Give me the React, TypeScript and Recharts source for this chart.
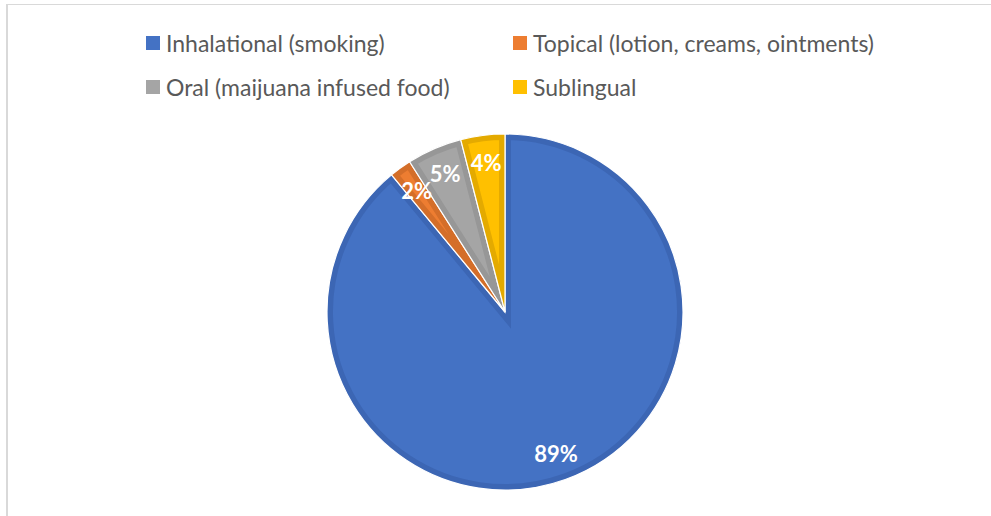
import React from 'react';
import { PieChart, Pie, Legend, Sector } from 'recharts';

const categories = [
  'Inhalational (smoking)',
  'Topical (lotion, creams, ointments)',
  'Oral (maijuana infused food)',
  'Sublingual',
];
const shares = [89, 2, 5, 4];
const fillColors = ['#4472c4', '#ed7d31', '#a5a5a5', '#ffc000'];
const bandColors = ['#3c66b4', '#d46e29', '#979797', '#e4aa00'];

const data = categories.map((name, i) => ({ name, value: shares[i] }));

const RAD = Math.PI / 180;
const FONT = 'Lato, "Open Sans", sans-serif';

const idxOf = (p: any) => {
  const n = p?.payload?.name ?? p?.name;
  const i = categories.indexOf(n);
  return i < 0 ? 0 : i;
};

const renderSlice = (p: any) => {
  const i = idxOf(p);
  const id = `slice-clip-${i}`;
  const geom = {
    cx: p.cx,
    cy: p.cy,
    innerRadius: p.innerRadius,
    outerRadius: p.outerRadius,
    startAngle: p.startAngle,
    endAngle: p.endAngle,
  };
  return (
    <g>
      <defs>
        <clipPath id={id}>
          <Sector {...geom} />
        </clipPath>
      </defs>
      <Sector {...geom} fill={fillColors[i]} stroke={bandColors[i]} strokeWidth={12} clipPath={`url(#${id})`} />
      <Sector {...geom} fill="none" stroke="#ffffff" strokeWidth={1.2} />
    </g>
  );
};

const renderLabel = (p: any) => {
  const r = p.outerRadius * 0.845;
  const x = p.cx + r * Math.cos(-p.midAngle * RAD);
  const y = p.cy + r * Math.sin(-p.midAngle * RAD);
  return (
    <text
      x={x}
      y={y}
      fill="#ffffff"
      textAnchor="middle"
      dominantBaseline="central"
      fontFamily={FONT}
      fontWeight={700}
      fontSize={22}
    >
      {`${p.value}%`}
    </text>
  );
};

const legendPos = [
  { x: 146, y: 43 },
  { x: 513, y: 43 },
  { x: 146, y: 87 },
  { x: 513, y: 87 },
];

const LegendBox = () => (
  <div style={{ position: 'relative', width: 991, height: 120 }}>
    {categories.map((c, i) => (
      <div
        key={c}
        style={{
          position: 'absolute',
          left: legendPos[i].x,
          top: legendPos[i].y - 14,
          height: 28,
          display: 'flex',
          alignItems: 'center',
          whiteSpace: 'nowrap',
        }}
      >
        <span style={{ width: 14, height: 14, background: fillColors[i], display: 'inline-block' }} />
        <span
          style={{
            marginLeft: 6,
            fontFamily: FONT,
            fontSize: 23,
            color: '#595959',
            lineHeight: '28px',
          }}
        >
          {c}
        </span>
      </div>
    ))}
  </div>
);

export default function App() {
  return (
    <div style={{ position: 'absolute', left: 0, top: 0, width: 991, height: 516, background: '#fff' }}>
      <div
        style={{
          position: 'absolute',
          left: 6,
          top: 4,
          width: 985,
          height: 512,
          borderLeft: '2px solid #d9d9d9',
          borderTop: '1px solid #d9d9d9',
          boxSizing: 'border-box',
        }}
      />
      <PieChart width={991} height={516} margin={{ top: 0, right: 0, bottom: 0, left: 0 }}>
        <Legend
          content={() => <LegendBox />}
          wrapperStyle={{ position: 'absolute', left: 0, top: 0, width: 991, height: 120 }}
        />
        <Pie
          data={data}
          dataKey="value"
          nameKey="name"
          cx={505}
          cy={312}
          outerRadius={178}
          startAngle={90}
          endAngle={-270}
          stroke="none"
          shape={renderSlice}
          label={renderLabel}
          labelLine={false}
          isAnimationActive={false}
        />
      </PieChart>
    </div>
  );
}
